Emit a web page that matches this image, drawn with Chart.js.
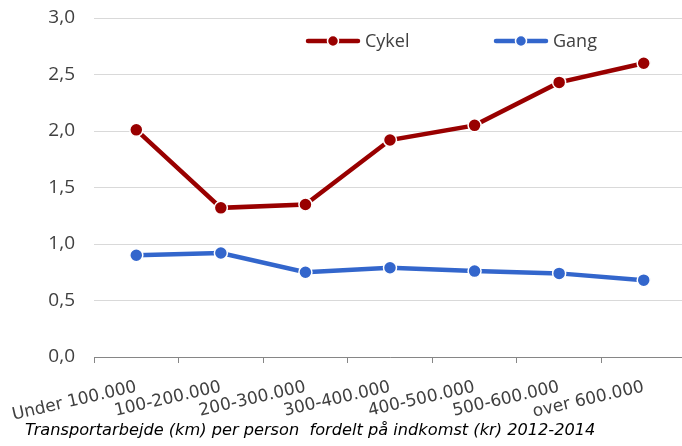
<!DOCTYPE html>
<html>
<head>
<meta charset="utf-8">
<script src="https://cdn.jsdelivr.net/npm/chart.js@4.4.1/dist/chart.umd.min.js"></script>
<style>
  html, body { margin: 0; padding: 0; background: #fff; overflow: hidden; }
  canvas { display: block; }
</style>
</head>
<body>
<canvas id="transportChart" width="694" height="446"></canvas>
<script>
// data
var categories = ['Under 100.000', '100-200.000', '200-300.000', '300-400.000', '400-500.000', '500-600.000', 'over 600.000'];
var cykel = [2.01, 1.32, 1.35, 1.92, 2.05, 2.43, 2.60];
var gang = [0.90, 0.92, 0.75, 0.79, 0.76, 0.74, 0.68];
var seriesNames = ['Cykel', 'Gang'];
var captionText = 'Transportarbejde (km) per person  fordelt på indkomst (kr) 2012-2014';

var red = '#990000';
var blue = '#3366CC';

// legend drawn over the plot, like the original (line + dot sample)
var overlayLegend = {
    id: 'overlayLegend',
    afterDraw: function(chart) {
        var ctx = chart.ctx;
        var starts = [306, 494];
        var y = 41;
        ctx.save();
        chart.data.datasets.forEach(function(ds, i) {
            var x = starts[i];
            ctx.strokeStyle = ds.borderColor;
            ctx.lineWidth = 4.5;
            ctx.lineCap = 'round';
            ctx.beginPath();
            ctx.moveTo(x + 2, y);
            ctx.lineTo(x + 52, y);
            ctx.stroke();
            ctx.fillStyle = ds.borderColor;
            ctx.strokeStyle = '#fff';
            ctx.lineWidth = 1.5;
            ctx.beginPath();
            ctx.arc(x + 27, y, 5.5, 0, Math.PI * 2);
            ctx.fill();
            ctx.stroke();
            ctx.fillStyle = '#404040';
            ctx.font = '18px "Open Sans"';
            ctx.textBaseline = 'middle';
            ctx.textAlign = 'left';
            ctx.fillText(ds.label, x + 59, y + 1);
        });
        ctx.restore();
    }
};

var caption = {
    id: 'caption',
    afterDraw: function(chart) {
        var ctx = chart.ctx;
        ctx.save();
        ctx.fillStyle = '#000';
        ctx.font = 'italic 16.2px "DejaVu Sans"';
        ctx.textBaseline = 'alphabetic';
        ctx.textAlign = 'left';
        ctx.fillText(captionText, 25, 435);
        ctx.restore();
    }
};

var ctx = document.getElementById('transportChart').getContext('2d');
var transportChart = new Chart(ctx, {
    type: 'line',
    data: {
        labels: categories,
        datasets: [{
            label: seriesNames[0],
            data: cykel,
            borderColor: red,
            backgroundColor: red,
            borderWidth: 4.5,
            pointRadius: 6.5,
            pointHoverRadius: 6.5,
            pointBorderColor: '#fff',
            pointBorderWidth: 1.5,
            tension: 0
        }, {
            label: seriesNames[1],
            data: gang,
            borderColor: blue,
            backgroundColor: blue,
            borderWidth: 4.5,
            pointRadius: 6.5,
            pointHoverRadius: 6.5,
            pointBorderColor: '#fff',
            pointBorderWidth: 1.5,
            tension: 0
        }]
    },
    options: {
        responsive: false,
        animation: false,
        layout: {
            padding: { top: 18, right: 1, bottom: 0, left: 0 }
        },
        plugins: {
            legend: { display: false },
            tooltip: { enabled: false }
        },
        scales: {
            x: {
                offset: true,
                grid: {
                    offset: true,
                    drawOnChartArea: false,
                    drawTicks: true,
                    tickLength: 6,
                    color: '#868686'
                },
                border: { display: true, color: '#868686', width: 1 },
                ticks: {
                    color: '#404040',
                    font: { family: '"DejaVu Sans"', size: 17 },
                    minRotation: 13,
                    maxRotation: 13,
                    padding: 14,
                    autoSkip: false
                },
                afterFit: function(scale) {
                    scale.height = 89;
                    scale.paddingLeft = 0;
                    scale.paddingRight = 0;
                }
            },
            y: {
                min: 0,
                max: 3,
                grid: {
                    color: '#d9d9d9',
                    drawTicks: false
                },
                border: { display: false },
                ticks: {
                    stepSize: 0.5,
                    color: '#404040',
                    padding: 19,
                    font: { family: '"Open Sans"', size: 19 },
                    callback: function(v) { return v.toFixed(1).replace('.', ','); }
                },
                afterFit: function(scale) {
                    scale.width = 94;
                    scale.paddingTop = 0;
                    scale.paddingBottom = 0;
                }
            }
        }
    },
    plugins: [overlayLegend, caption]
});
</script>
</body>
</html>
